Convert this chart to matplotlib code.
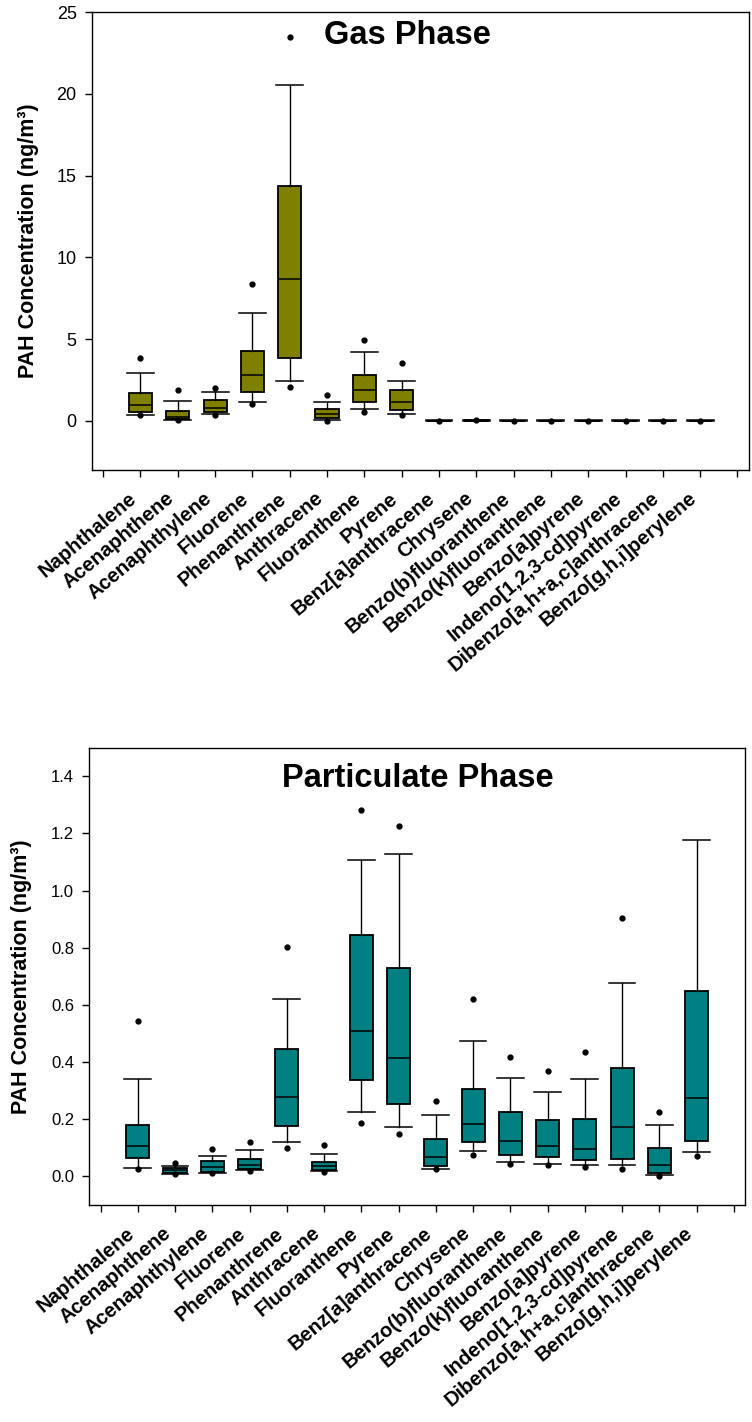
# PAH concentrations, gas vs particulate phase box plots
import matplotlib.pyplot as plt
from matplotlib.transforms import ScaledTranslation

plt.rcParams['font.family'] = ['Liberation Sans', 'DejaVu Sans']

compounds = ['Naphthalene', 'Acenaphthene', 'Acenaphthylene', 'Fluorene', 'Phenanthrene',
             'Anthracene', 'Fluoranthene', 'Pyrene', 'Benz[a]anthracene', 'Chrysene',
             'Benzo(b)fluoranthene', 'Benzo(k)fluoranthene', 'Benzo[a]pyrene',
             'Indeno[1,2,3-cd]pyrene', 'Dibenzo[a,h+a,c]anthracene', 'Benzo[g,h,i]perylene']

# gas phase (ng/m3)
gas_lo = [0.35, 0.06, 0.43, 1.16, 2.44, 0.08, 0.75, 0.43, 0.0, 0.0, 0.0, 0.0, 0.0, 0.0, 0.0, 0.0]
gas_q1 = [0.53, 0.10, 0.57, 1.77, 3.87, 0.18, 1.16, 0.67, 0.0, 0.0, 0.0, 0.0, 0.0, 0.0, 0.0, 0.0]
gas_med = [0.98, 0.22, 0.81, 2.79, 8.69, 0.41, 1.90, 1.18, 0.01, 0.02, 0.01, 0.01, 0.01, 0.01, 0.01, 0.01]
gas_q3 = [1.69, 0.61, 1.28, 4.28, 14.38, 0.71, 2.79, 1.88, 0.02, 0.05, 0.02, 0.02, 0.02, 0.02, 0.02, 0.02]
gas_hi = [2.92, 1.22, 1.77, 6.59, 20.57, 1.14, 4.20, 2.47, 0.03, 0.06, 0.03, 0.03, 0.03, 0.03, 0.03, 0.03]
gas_out = [[3.83, 0.35], [1.90, 0.05], [2.04, 0.35], [8.36, 1.06], [23.47, 2.10], [1.59, 0.02],
           [4.93, 0.57], [3.57, 0.37], [0.02], [0.05], [0.02], [0.02], [0.02], [0.02], [0.02], [0.02]]

# particulate phase (ng/m3)
part_lo = [0.030, 0.009, 0.012, 0.021, 0.120, 0.019, 0.224, 0.172, 0.027, 0.089, 0.050, 0.044,
           0.039, 0.041, 0.005, 0.085]
part_q1 = [0.064, 0.011, 0.014, 0.026, 0.177, 0.022, 0.336, 0.255, 0.037, 0.119, 0.074, 0.069,
           0.056, 0.061, 0.011, 0.124]
part_med = [0.107, 0.021, 0.032, 0.041, 0.278, 0.036, 0.508, 0.415, 0.067, 0.182, 0.123, 0.106,
            0.095, 0.172, 0.041, 0.274]
part_q3 = [0.181, 0.028, 0.053, 0.060, 0.446, 0.051, 0.844, 0.729, 0.131, 0.305, 0.224, 0.197,
           0.202, 0.381, 0.098, 0.648]
part_hi = [0.342, 0.037, 0.070, 0.091, 0.621, 0.078, 1.106, 1.129, 0.215, 0.474, 0.346, 0.294,
           0.340, 0.676, 0.181, 1.176]
part_out = [[0.543, 0.027], [0.048, 0.009], [0.096, 0.013], [0.119, 0.019], [0.803, 0.100],
            [0.111, 0.016], [1.282, 0.186], [1.226, 0.147], [0.264, 0.025], [0.619, 0.076],
            [0.417, 0.042], [0.368, 0.039], [0.437, 0.034], [0.904, 0.026], [0.227, 0.002],
            [0.071]]


def make_stats(lo, q1, med, q3, hi, out):
    return [dict(whislo=a, q1=b, med=c, q3=d, whishi=e, fliers=f)
            for a, b, c, d, e, f in zip(lo, q1, med, q3, hi, out)]


def draw_panel(ax, stats, color, title, title_y, ylim, yticks, yfmt, ylab_x, tick_fs):
    ax.bxp(stats, positions=range(1, 17), widths=0.62, capwidths=0.72, patch_artist=True,
           boxprops=dict(facecolor=color, edgecolor='black', linewidth=1.3),
           medianprops=dict(color='black', linewidth=1.1),
           whiskerprops=dict(color='black', linewidth=1.0),
           capprops=dict(color='black', linewidth=1.1),
           flierprops=dict(marker='o', markerfacecolor='black', markeredgecolor='black',
                           markersize=3.5, linestyle='none'),
           manage_ticks=False)
    ax.set_xlim(-0.3, 17.3)
    ax.set_ylim(*ylim)
    ax.set_xticks(range(18))
    ax.set_xticklabels([''] + compounds + [''], rotation=40, ha='right',
                       fontsize=14.5, fontweight='bold')
    for lab in ax.get_xticklabels():
        lab.set_transform(lab.get_transform() + ScaledTranslation(4 / 100, 0, ax.figure.dpi_scale_trans))
    ax.set_yticks(yticks)
    ax.set_yticklabels([yfmt.format(v) for v in yticks], fontsize=tick_fs)
    ax.tick_params(axis='both', direction='out', length=5, width=1, top=False, right=False)
    ax.tick_params(axis='x', pad=8.5)
    ax.tick_params(axis='y', pad=6)
    for sp in ax.spines.values():
        sp.set_linewidth(1.0)
    ax.text(ylab_x, 0.5, 'PAH Concentration (ng/m\u00b3)', rotation=90, ha='center', va='center',
            fontsize=15.5, fontweight='bold', transform=ax.transAxes)
    ax.text(title[1], title_y, title[0], ha='center', va='baseline', fontsize=23.5,
            fontweight='bold', transform=ax.transAxes)


fig = plt.figure(figsize=(7.52, 14.22), dpi=100)
ax1 = fig.add_axes([0.1223, 0.6695, 0.8733, 0.3219])
ax2 = fig.add_axes([0.1188, 0.1526, 0.8719, 0.3216])

draw_panel(ax1, make_stats(gas_lo, gas_q1, gas_med, gas_q3, gas_hi, gas_out), '#808000',
           ('Gas Phase', 0.48), 0.931, (-3, 25), [0, 5, 10, 15, 20, 25], '{:g}', -0.096, 13)
draw_panel(ax2, make_stats(part_lo, part_q1, part_med, part_q3, part_hi, part_out), '#008080',
           ('Particulate Phase', 0.501), 0.915, (-0.1, 1.5),
           [0.0, 0.2, 0.4, 0.6, 0.8, 1.0, 1.2, 1.4], '{:.1f}', -0.103, 12)

fig.savefig('out.png', dpi=100)
